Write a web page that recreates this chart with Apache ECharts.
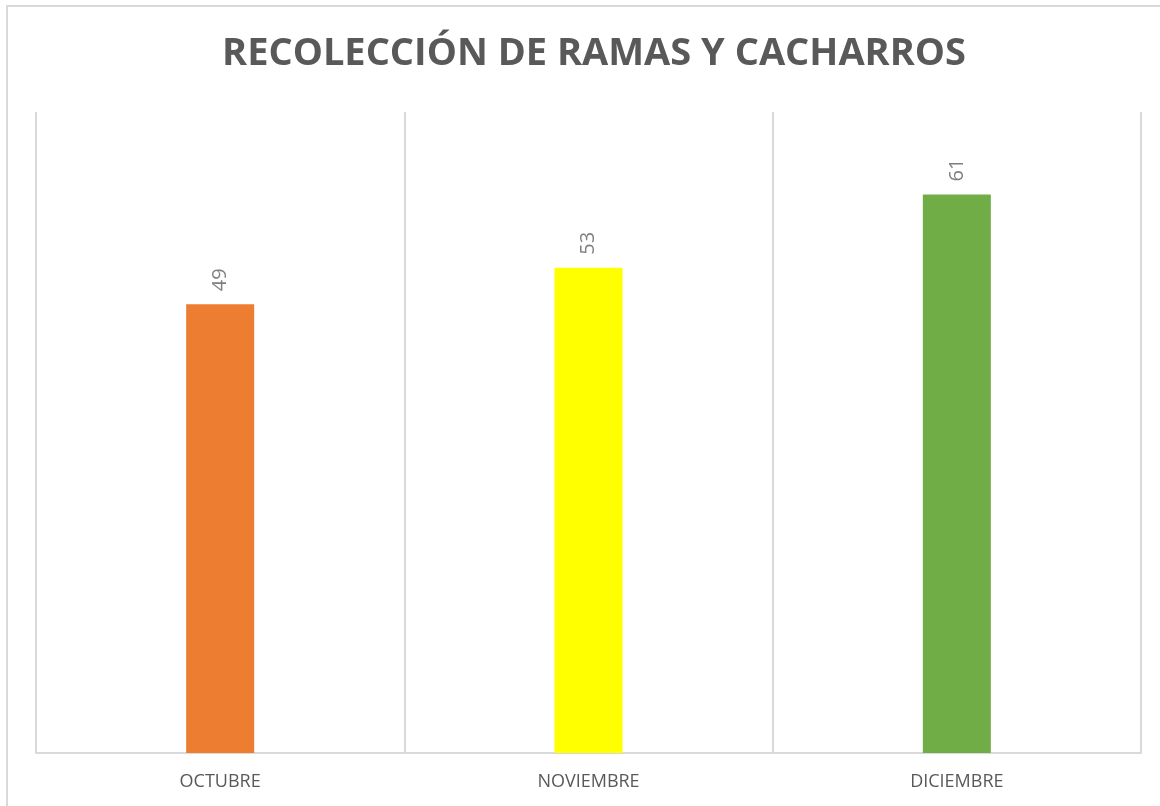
<!DOCTYPE html>
<html>
<head>
<meta charset="utf-8">
<script src="https://cdn.jsdelivr.net/npm/echarts@6/dist/echarts.min.js"></script>
<style>
  html, body { margin: 0; padding: 0; background: #fff; }
  #chart { width: 1160px; height: 806px; }
</style>
</head>
<body>
<div id="chart"></div>
<script>
// datos del gráfico
var meses = ['OCTUBRE', 'NOVIEMBRE', 'DICIEMBRE'];
var valores = [49, 53, 61];
var colores = ['#ED7D31', '#FFFF00', '#70AD47'];

var myChart = echarts.init(document.getElementById('chart'));

var option = {
  backgroundColor: '#fff',
  animation: false,
  title: {
    text: 'RECOLECCIÓN DE RAMAS Y CACHARROS',
    left: 589,
    textAlign: 'center',
    top: 30,
    textStyle: {
      fontFamily: 'Open Sans',
      fontWeight: 'bold',
      fontSize: 38,
      color: '#595959'
    }
  },
  graphic: [
    {
      type: 'rect',
      shape: { x: 7, y: 6, width: 1170, height: 820 },
      style: { fill: 'none', stroke: '#d9d9d9', lineWidth: 2 },
      silent: true
    }
  ],
  grid: {
    left: 36,
    right: 19,
    top: 112,
    bottom: 53
  },
  xAxis: {
    type: 'category',
    data: meses,
    axisLine: { lineStyle: { color: '#d9d9d9', width: 2 } },
    axisTick: { show: false },
    splitLine: { show: true, lineStyle: { color: '#d9d9d9', width: 2 } },
    axisLabel: {
      margin: 20,
      fontFamily: 'Open Sans',
      fontSize: 18,
      color: '#595959'
    }
  },
  yAxis: {
    type: 'value',
    min: 0,
    max: 70,
    show: false,
    splitLine: { show: false }
  },
  series: [
    {
      type: 'bar',
      barWidth: 68,
      data: valores.map(function (v, i) {
        return { value: v, itemStyle: { color: colores[i] } };
      }),
      label: {
        show: true,
        position: 'top',
        rotate: 90,
        align: 'left',
        verticalAlign: 'middle',
        distance: 13,
        fontFamily: 'Open Sans',
        fontSize: 20,
        color: '#7f7f7f'
      }
    }
  ]
};

myChart.setOption(option);
</script>
</body>
</html>
